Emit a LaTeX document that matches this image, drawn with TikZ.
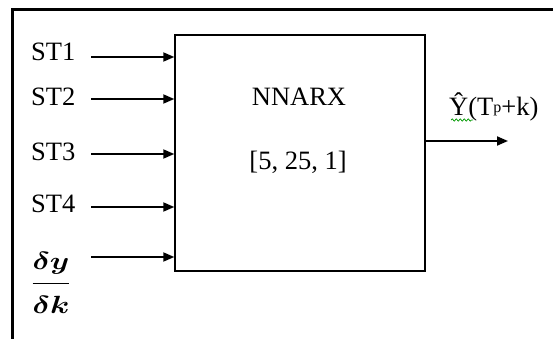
\documentclass[tikz,border=0pt]{standalone}
\usepackage{amsmath,amsbsy}
\usepackage{fontspec}
\setmainfont{Liberation Serif}
\usetikzlibrary{arrows.meta,decorations.pathmorphing}
\begin{document}
\begin{tikzpicture}[x=1pt,y=-1pt,
  lbl/.style={inner sep=0pt,font=\fontsize{26.5}{31}\selectfont},
  inarrow/.style={line width=1.8pt,-{Triangle[length=11pt,width=9pt]}},
  blockbox/.style={draw,line width=1.4pt,minimum width=250pt,minimum height=236pt,inner sep=0pt}]
\useasboundingbox (0,0) rectangle (553,339);
\fill[white] (0,0) rectangle (553,339);
% frame
\draw[line width=3pt] (12.5,339) -- (12.5,10) -- (553,10);
% block
\node[blockbox] (box) at (300,153) {};
\node[lbl] (nn) at (299,97) {NNARX};
\node[lbl] (par) at (298,162) {[5, 25, 1]};
% inputs
\node[lbl,anchor=west] (st1) at (31,52) {ST1};
\node[lbl,anchor=west] (st2) at (31,97) {ST2};
\node[lbl,anchor=west] (st3) at (31,152) {ST3};
\node[lbl,anchor=west] (st4) at (31,204) {ST4};
\node[inner sep=0pt,font=\fontsize{31}{36}\selectfont,anchor=center] (dyk) at (51,283) {\scalebox{1.25}[1]{$\dfrac{\rule[-10pt]{0pt}{10pt}\boldsymbol{\delta y}}{\rule{0pt}{27pt}\boldsymbol{\delta k}}$}};
\coordinate (a1) at (91,57);
\coordinate (a2) at (91,99);
\coordinate (a3) at (91,154);
\coordinate (a4) at (91,207);
\coordinate (a5) at (91,257);
\foreach \i in {1,...,5} {\draw[inarrow] (a\i) -- (a\i -| box.west);}
% output
\coordinate (out) at (508,141);
\draw[inarrow] (box.east |- out) -- (out);
\node[lbl,anchor=west] (yhat) at (449,107) {Ŷ(T\raisebox{3pt}{\fontsize{16}{18}\selectfont p}+k)};
\draw[green!60!black,line width=0.7pt,decorate,decoration={snake,amplitude=1.2pt,segment length=4pt}] (451,120) -- (473,120);
\end{tikzpicture}
\end{document}
